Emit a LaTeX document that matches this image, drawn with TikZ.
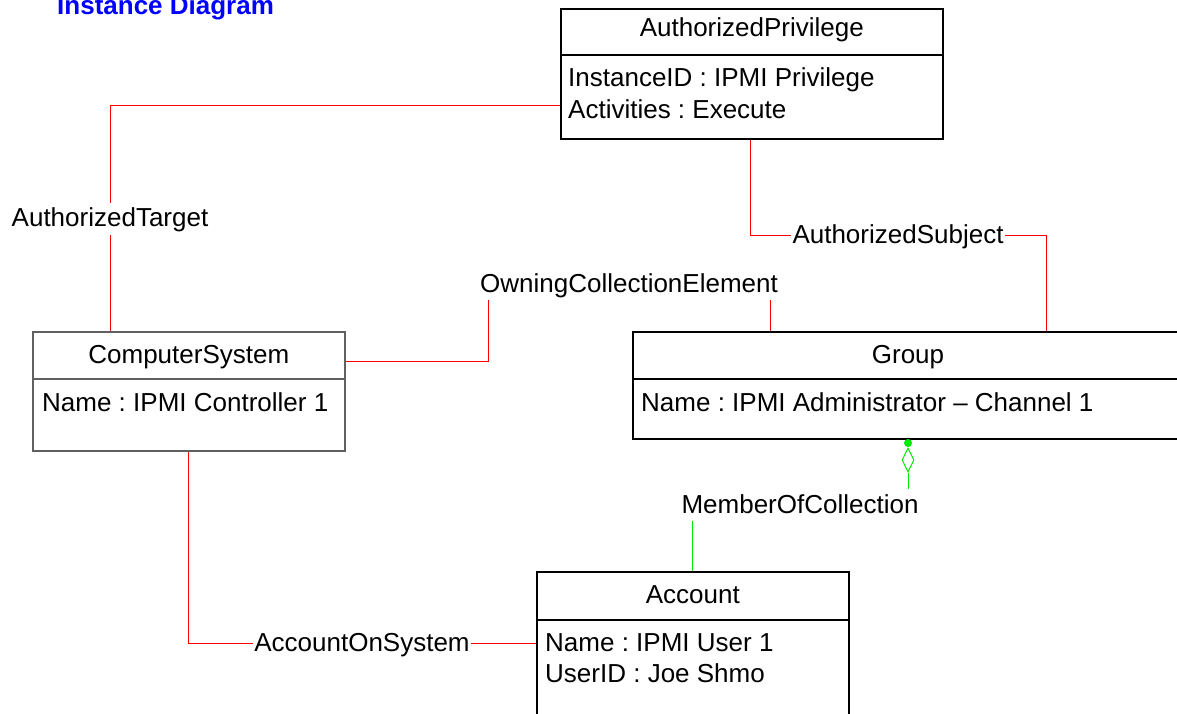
\documentclass[tikz,border=0pt]{standalone}
\usepackage{fontspec}
\setmainfont{Liberation Sans}
\usetikzlibrary{shapes.geometric}
\definecolor{assocred}{RGB}{255,0,0}
\definecolor{membergreen}{RGB}{0,235,0}
\definecolor{titleblue}{RGB}{0,0,255}
\definecolor{csgray}{RGB}{96,96,96}
\frenchspacing

\begin{document}
\begin{tikzpicture}[x=1pt,y=-1pt,font=\fontsize{26}{31}\selectfont,
  cls/.style={draw,line width=1.6pt,inner sep=0pt,anchor=north west},
  head/.style={anchor=base,inner sep=0pt},
  attr/.style={anchor=base west,inner sep=0pt},
  lbl/.style={fill=white,text=black,inner xsep=1.5pt,inner ysep=2pt,text height=22pt,text depth=6pt},
  assoc/.style={assocred,line width=1pt},
  member/.style={membergreen,line width=1pt}]
 % \draw[help lines] (0,0) grid (1177,714);
  \useasboundingbox (0,0) rectangle (1177,714);
  \clip (0,0) rectangle (1177,714);
  \node[attr,font=\fontsize{26}{31}\selectfont\bfseries,text=titleblue] (title) at (57,15) {Instance Diagram};

  \node[cls,minimum width=382pt,minimum height=130pt] (ap) at (560,8) {};
  \node[cls,draw=csgray,minimum width=312pt,minimum height=119pt] (cs) at (32,331) {};
  \node[cls,minimum width=552pt,minimum height=107pt] (grp) at (632,331) {};
  \node[cls,minimum width=312pt,minimum height=159pt] (acc) at (536,571) {};
  \draw[line width=1.6pt] (ap.west |- 0,55) -- (ap.east |- 0,55);
  \draw[line width=1.6pt,csgray] (cs.west |- 0,379) -- (cs.east |- 0,379);
  \draw[line width=1.6pt] (grp.west |- 0,379) -- (grp.east |- 0,379);
  \draw[line width=1.6pt] (acc.west |- 0,620) -- (acc.east |- 0,620);

  \node[head] (ap-name) at (ap.north |- 0,37) {AuthorizedPrivilege};
  \node[attr] (ap-id) at (568,87) {InstanceID : IPMI Privilege};
  \node[attr] (ap-act) at (568,119) {Activities : Execute};
  \node[head] (cs-name) at (cs.north |- 0,363) {ComputerSystem};
  \node[attr] (cs-attr) at (42,411) {Name : IPMI Controller 1};
  \node[head] (grp-name) at (908,363) {Group};
  \node[attr] (grp-attr) at (641,411) {Name : IPMI Administrator – Channel 1};
  \node[head] (acc-name) at (acc.north |- 0,603) {Account};
  \node[attr] (acc-attr) at (545,651) {Name : IPMI User 1};
  \node[attr] (acc-uid) at (545,682) {UserID : Joe Shmo};

  \draw[assoc] (ap.west |- 0,106) -| node[lbl,pos=.75] (at-lbl) {AuthorizedTarget} (110,0 |- cs.north);
  \draw[assoc] (750,0 |- ap.south) |- node[lbl,pos=.75] (as-lbl) {AuthorizedSubject} (1046,235) -- (1046,0 |- grp.north);
  \draw[assoc] (cs.east |- 0,361) -| (488,284) -- node[lbl] (oce-lbl) {OwningCollectionElement} (770,284) -- (770,0 |- grp.north);
  \draw[assoc] (188,0 |- cs.south) |- node[lbl,pos=.75] (aos-lbl) {AccountOnSystem} (acc.west |- 0,643);

  \node[diamond,draw=membergreen,line width=1pt,fill=white,inner sep=0pt,minimum width=12pt,minimum height=24pt] (agg) at (908,460) {};
  \node[circle,fill=membergreen,inner sep=0pt,minimum size=8pt] (aggdot) at (908,443) {};
  \draw[member] (692,0 |- acc.north) |- node[lbl,pos=.75] (moc-lbl) {MemberOfCollection} (908,505) -- (agg.south);
\end{tikzpicture}
\end{document}
